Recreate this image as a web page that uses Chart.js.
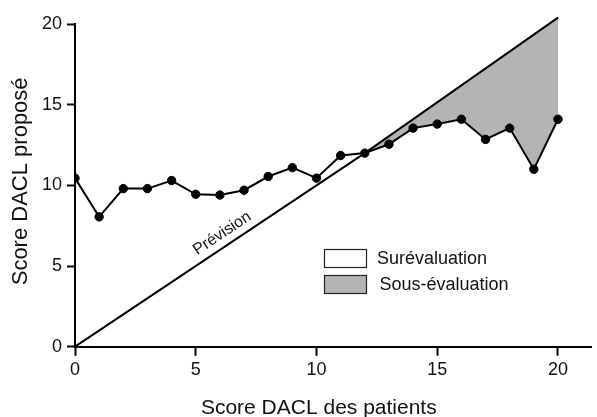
<!DOCTYPE html>
<html><head><meta charset="utf-8">
<script src="https://cdn.jsdelivr.net/npm/chart.js@4"></script>
<style>html,body{margin:0;padding:0;background:#fff}canvas{display:block}</style>
</head><body>
<canvas id="c" width="597" height="417"></canvas>
<script>
// ---- data ----
const patientScores  = [0,1,2,3,4,5,6,7,8,9,10,11,12,13,14,15,16,17,18,19,20];
const proposedScores = [10.45,8.05,9.8,9.8,10.3,9.45,9.4,9.7,10.55,11.1,10.45,11.85,12.0,12.55,13.55,13.8,14.1,12.85,13.55,11.0,14.1];
const predictionX = [0,12,20];
const predictionY = [0,12,20.4];
const xTicks = [0,5,10,15,20];
const yTicks = [0,5,10,15,20];
const xTitle = 'Score DACL des patients';
const yTitle = 'Score DACL proposé';
const predictionLabel = 'Prévision';
const legendLabels = ['Surévaluation','Sous-évaluation'];
const legendColors = ['#ffffff','#b4b4b4'];

const FONT = '"Liberation Sans", Arial, Helvetica, sans-serif';
const INK = '#111';

const decor = {
  id: 'decor',
  afterDraw(chart){
    const {ctx, scales:{x, y}} = chart;
    ctx.save();
    // y axis line (0..20)
    ctx.strokeStyle = '#000'; ctx.lineWidth = 2;
    const x0 = x.getPixelForValue(0);
    ctx.beginPath();
    ctx.moveTo(x0, y.getPixelForValue(0) + 1);
    ctx.lineTo(x0, y.getPixelForValue(20) - 1);
    ctx.stroke();

    // Prévision label along the diagonal
    const ax = x.getPixelForValue(predictionX[0]), ay = y.getPixelForValue(predictionY[0]);
    const bx = x.getPixelForValue(predictionX[1]), by = y.getPixelForValue(predictionY[1]);
    const ang = Math.atan2(by - ay, bx - ax);
    const t = 5.25 / predictionX[1];
    const px = ax + (bx - ax) * t, py = ay + (by - ay) * t;
    ctx.translate(px, py);
    ctx.rotate(ang);
    ctx.font = '16px ' + FONT;
    ctx.fillStyle = INK;
    ctx.textAlign = 'left';
    ctx.textBaseline = 'alphabetic';
    ctx.fillText(predictionLabel, 0, -8);
    ctx.setTransform(1,0,0,1,0,0);

    // legend
    const bx0 = 324, bw = 42, bh = 18, rows = [249, 275];
    ctx.font = '18px ' + FONT;
    ctx.textBaseline = 'middle';
    legendLabels.forEach((lab, i) => {
      ctx.fillStyle = legendColors[i];
      ctx.fillRect(bx0, rows[i], bw, bh);
      ctx.strokeStyle = '#222'; ctx.lineWidth = 1.2;
      ctx.strokeRect(bx0 + 0.5, rows[i] + 0.5, bw, bh);
      ctx.fillStyle = INK;
      ctx.fillText(lab, 377 + i * 2.5, rows[i] + bh / 2 + 1);
    });
    ctx.restore();
  }
};

const tickFont = {family: FONT, size: 18};

new Chart(document.getElementById('c'), {
  type: 'line',
  data: {
    datasets: [
      {
        label: 'Score proposé',
        data: patientScores.map((v, i) => ({x: v, y: proposedScores[i]})),
        borderColor: '#000', backgroundColor: '#000',
        borderWidth: 2, tension: 0,
        pointRadius: 4.2, pointBorderWidth: 1, pointBackgroundColor: '#000', pointBorderColor: '#000',
        fill: false
      },
      {
        label: predictionLabel,
        data: predictionX.map((v, i) => ({x: v, y: predictionY[i]})),
        borderColor: '#000', borderWidth: 2, tension: 0, pointRadius: 0,
        fill: {target: 0, above: '#b4b4b4', below: 'rgba(255,255,255,0)'},
        clip: false
      }
    ]
  },
  options: {
    responsive: false,
    animation: false,
    events: [],
    layout: {padding: {top: 16, right: 0, left: 0, bottom: 0}},
    plugins: {legend: {display: false}, tooltip: {enabled: false}},
    scales: {
      x: {
        type: 'linear', min: 0, max: 21.4,
        afterBuildTicks: s => { s.ticks = xTicks.map(v => ({value: v})); },
        afterFit: s => { s.height = 70.3; },
        border: {display: true, color: '#000', width: 2},
        grid: {drawOnChartArea: false, drawTicks: true, tickLength: 9, tickWidth: 2, tickColor: '#000', color: '#000'},
        ticks: {font: tickFont, color: INK, padding: 4, maxRotation: 0},
        title: {display: true, text: xTitle + '     ', font: {family: FONT, size: 21}, color: INK, padding: {top: 0, bottom: -4}}
      },
      y: {
        type: 'linear', min: 0, max: 20.5,
        afterBuildTicks: s => { s.ticks = yTicks.map(v => ({value: v})); },
        afterFit: s => { s.width = 75; },
        border: {display: false},
        grid: {drawOnChartArea: false, drawTicks: true, tickLength: 8, tickWidth: 2, tickColor: '#000', color: '#000'},
        ticks: {font: tickFont, color: INK, padding: 5},
        title: {display: true, text: yTitle, font: {family: FONT, size: 22}, color: INK, padding: {top: 7.5, bottom: 0}}
      }
    }
  },
  plugins: [decor]
});
</script>
</body></html>
